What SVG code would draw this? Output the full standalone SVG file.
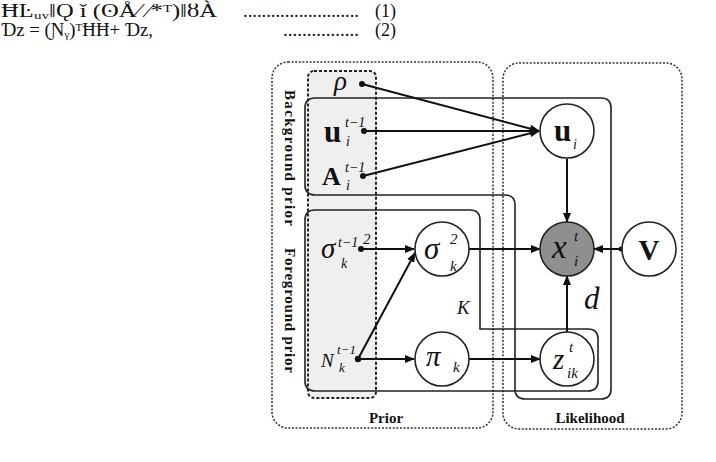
<svg xmlns="http://www.w3.org/2000/svg" width="716" height="462" viewBox="0 0 716 462">
<style>
.eq{font-family:'Liberation Serif','Times New Roman','DejaVu Serif',serif;font-size:18px;fill:#111}
.box{fill:none;stroke:#333;stroke-width:1.5;stroke-dasharray:2 1.6}
.plate{fill:none;stroke:#222;stroke-width:1.6}
.node{fill:#fff;stroke:#222;stroke-width:1.6}
.obs{fill:#8f8f8f;stroke:#222;stroke-width:1.6}
.m{font-family:'Liberation Serif','Times New Roman','DejaVu Serif',serif;font-style:italic;fill:#111}
.b{font-family:'Liberation Serif','Times New Roman','DejaVu Serif',serif;font-weight:bold;fill:#111}
.lab{font-family:'Liberation Serif','Times New Roman','DejaVu Serif',serif;font-weight:bold;font-size:15px;fill:#111}
.edge{stroke:#111;stroke-width:2;fill:none}
.dot{fill:#111}
</style>
<defs>
<marker id="ah" markerUnits="userSpaceOnUse" markerWidth="10" markerHeight="8" refX="9" refY="4" orient="auto">
<path d="M0,0 L10,4 L0,8 Z" fill="#111"/>
</marker>
</defs>
<g id="equations">
<text class="eq" x="1" y="17" textLength="216" lengthAdjust="spacingAndGlyphs">ĦĿᵤᵥǁǪ ǐ  (ʘÅ⁄ ⁄*ᵀ)ǁȣÀ</text>
<text class="eq" x="243" y="17" textLength="116" lengthAdjust="spacingAndGlyphs">.........................</text>
<text class="eq" x="375" y="17">(1)</text>
<text class="eq" x="1" y="36" textLength="152" lengthAdjust="spacingAndGlyphs">Ɗᴢ = (Ɲᵧ)ᵀĦĦ+ Ɗᴢ,</text>
<text class="eq" x="283" y="36" textLength="76" lengthAdjust="spacingAndGlyphs">................</text>
<text class="eq" x="375" y="36">(2)</text>
</g>
<g id="frames">
<rect x="308" y="71" width="68" height="327" rx="6" fill="#efefef"/>
<rect class="box" x="272" y="62" width="221" height="366" rx="16"/>
<rect class="box" x="503" y="63" width="179" height="366" rx="16"/>
<path class="plate" d="M305,108 Q305,98 315,98 L601,98 Q611,98 611,108 L611,389 Q611,399 601,399 L525,399 Q515,399 515,389 L515,205 Q515,195 505,195 L315,195 Q305,195 305,185 Z"/>
<path class="plate" d="M315,210 L470,210 Q480,210 480,220 L480,329 L588,329 Q598,329 598,339 L598,381 Q598,391 588,391 L315,391 Q305,391 305,381 L305,220 Q305,210 315,210 Z"/>
<rect x="308" y="71" width="68" height="327" rx="6" fill="none" stroke="#222" stroke-width="2" stroke-dasharray="3 2"/>
<text class="lab" transform="translate(285,90) rotate(90)" textLength="136" lengthAdjust="spacing">Background  prior</text>
<text class="lab" transform="translate(285,248) rotate(90)" textLength="125" lengthAdjust="spacing">Foreground prior</text>
<text class="lab" x="386" y="423" text-anchor="middle">Prior</text>
<text class="lab" x="590" y="423" text-anchor="middle">Likelihood</text>
<text class="m" x="457" y="314" font-size="19">K</text>
<text class="m" x="584" y="309" font-size="31">d</text>
</g>
<g id="connectors">
<line class="edge" x1="362" y1="84" x2="539" y2="131" marker-end="url(#ah)"/>
<line class="edge" x1="364" y1="131" x2="539" y2="131" marker-end="url(#ah)"/>
<line class="edge" x1="363" y1="176" x2="539" y2="131" marker-end="url(#ah)"/>
<line class="edge" x1="567" y1="159" x2="567" y2="222" marker-end="url(#ah)"/>
<line class="edge" x1="361" y1="249" x2="414" y2="249" marker-end="url(#ah)"/>
<line class="edge" x1="358" y1="359" x2="414" y2="359" marker-end="url(#ah)"/>
<line class="edge" x1="358" y1="359" x2="415" y2="253" marker-end="url(#ah)"/>
<line class="edge" x1="469" y1="249" x2="540" y2="249" marker-end="url(#ah)"/>
<line class="edge" x1="469" y1="359" x2="540" y2="359" marker-end="url(#ah)"/>
<line class="edge" x1="622" y1="249" x2="594" y2="249" marker-end="url(#ah)"/>
<line class="edge" x1="567" y1="332" x2="567" y2="276" marker-end="url(#ah)"/>
<circle class="dot" cx="362" cy="84" r="3"/>
<circle class="dot" cx="364" cy="131" r="3"/>
<circle class="dot" cx="363" cy="176" r="3"/>
<circle class="dot" cx="361" cy="249" r="3"/>
<circle class="dot" cx="358" cy="359" r="3.2"/>
<circle class="dot" cx="621" cy="249" r="2.5"/>
</g>
<g id="rho">
<text class="m" x="334" y="90" font-size="27">ρ</text>
</g>
<g id="u_prev">
<text class="b" x="324" y="142" font-size="31">u</text>
<text class="m" x="345" y="127" font-size="14">t−1</text>
<text class="m" x="346" y="146" font-size="14">i</text>
</g>
<g id="A_prev">
<text class="b" x="322" y="185" font-size="26">A</text>
<text class="m" x="345" y="172" font-size="14">t−1</text>
<text class="m" x="346" y="190" font-size="14">i</text>
</g>
<g id="sigma_prev">
<text class="m" x="321" y="258" font-size="29">σ</text>
<text class="m" x="338" y="247" font-size="14">t−1</text>
<text class="m" x="363" y="244" font-size="15">2</text>
<text class="m" x="341" y="268" font-size="14">k</text>
</g>
<g id="N_prev">
<text class="m" x="321" y="367" font-size="19">N</text>
<text class="m" x="337" y="354" font-size="13">t−1</text>
<text class="m" x="339" y="372" font-size="13">k</text>
</g>
<g id="u_i">
<circle class="node" cx="567" cy="131" r="27"/>
<text class="b" x="554" y="141" font-size="31">u</text>
<text class="m" x="573" y="149" font-size="14">i</text>
</g>
<g id="x_i">
<circle class="obs" cx="567" cy="249" r="27"/>
<text class="m" x="552" y="258" font-size="33">x</text>
<text class="m" x="574" y="241" font-size="15">t</text>
<text class="m" x="574" y="266" font-size="15">i</text>
</g>
<g id="V">
<circle class="node" cx="649" cy="249" r="27"/>
<text class="b" x="649" y="260" font-size="29" text-anchor="middle">V</text>
</g>
<g id="z_ik">
<circle class="node" cx="567" cy="359" r="27"/>
<text class="m" x="553" y="369" font-size="29">z</text>
<text class="m" x="569" y="352" font-size="15">t</text>
<text class="m" x="567" y="378" font-size="15">ik</text>
</g>
<g id="sigma_k">
<circle class="node" cx="442" cy="249" r="27"/>
<text class="m" x="424" y="259" font-size="31">σ</text>
<text class="m" x="450" y="244" font-size="15">2</text>
<text class="m" x="450" y="271" font-size="15">k</text>
</g>
<g id="pi_k">
<circle class="node" cx="442" cy="359" r="27"/>
<text class="m" x="426" y="366" font-size="29">π</text>
<text class="m" x="453" y="372" font-size="15">k</text>
</g>
</svg>
